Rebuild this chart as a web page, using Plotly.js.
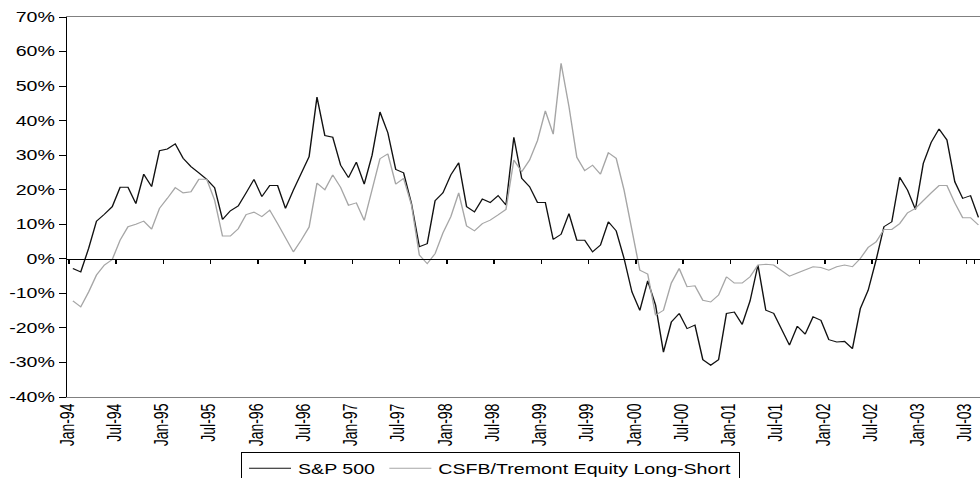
<!DOCTYPE html>
<html>
<head>
<meta charset="utf-8">
<script src="https://cdn.plot.ly/plotly-3.0.1.min.js"></script>
<style>
  html, body { margin: 0; padding: 0; overflow: hidden; background: #fff; }
  #chart { width: 700px; height: 478px; transform: scaleX(1.4); transform-origin: 0 0; }
</style>
</head>
<body>
<div id="chart"></div>
<script>
// Monthly returns (trailing 12-month, %) from Jan-94 onwards
const monthNames = ['Jan','Feb','Mar','Apr','May','Jun','Jul','Aug','Sep','Oct','Nov','Dec'];
const startYear = 1994;

const sp500 = [
  -2.8, -3.8, 3.0, 10.9, 12.9, 15.1, 20.7, 20.7, 16.0, 24.5, 20.9, 31.3,
  31.8, 33.3, 29.1, 26.7, 24.9, 23.0, 20.6, 11.4, 13.9, 15.3, 19.1, 23.0,
  18.0, 21.2, 21.2, 14.6, 19.9, 24.7, 29.6, 46.8, 35.7, 35.2, 27.1, 23.5,
  28.0, 21.6, 30.0, 42.5, 36.5, 25.9, 24.9, 16.0, 3.5, 4.4, 16.8, 19.1,
  24.3, 27.8, 15.1, 13.6, 17.3, 16.3, 18.3, 15.6, 35.2, 23.3, 20.9, 16.3,
  16.3, 5.6, 7.1, 13.1, 5.4, 5.4, 2.0, 4.0, 10.7, 8.1, 0.1, -9.6,
  -14.9, -6.4, -13.4, -27.0, -18.3, -15.8, -20.2, -19.2, -29.2, -30.8, -29.2, -15.8,
  -15.4, -19.0, -12.2, -1.8, -14.9, -15.8, -20.2, -25.0, -19.5, -21.8, -16.8, -17.8,
  -23.4, -24.1, -23.9, -26.0, -14.4, -9.1, -0.4, 9.3, 10.7, 23.6, 19.9, 14.3,
  27.6, 33.7, 37.6, 34.4, 22.3, 17.5, 18.3, 12.0
];

const csfbLongShort = [
  -12.2, -13.9, -9.6, -4.7, -1.8, -0.2, 5.4, 9.3, 10.0, 10.9, 8.6, 14.6,
  17.5, 20.6, 19.1, 19.4, 23.0, 23.0, 17.0, 6.6, 6.6, 8.7, 12.8, 13.5,
  12.2, 14.1, 10.2, 6.0, 2.0, 5.4, 9.2, 21.9, 20.0, 24.3, 20.7, 15.5,
  16.2, 11.1, 19.8, 29.0, 30.4, 21.6, 23.3, 15.6, 1.1, -1.4, 1.5, 7.5,
  12.2, 19.1, 9.5, 8.1, 10.2, 11.2, 12.7, 14.3, 28.6, 25.2, 28.6, 34.2,
  42.8, 36.1, 56.6, 44.1, 29.4, 25.5, 27.1, 24.5, 30.7, 29.1, 19.9, 8.3,
  -3.3, -4.4, -16.3, -14.9, -7.0, -2.8, -8.1, -7.8, -12.0, -12.5, -10.5, -5.2,
  -7.0, -7.0, -5.2, -1.8, -1.6, -1.8, -3.3, -5.0, -4.1, -3.1, -2.3, -2.5,
  -3.3, -2.3, -1.8, -2.3, 0.1, 3.3, 4.9, 8.5, 8.5, 10.2, 13.3, 14.6,
  17.0, 19.1, 21.2, 21.2, 16.2, 11.9, 11.9, 9.8
];

const xTickLabels = ['Jan-94','Jul-94','Jan-95','Jul-95','Jan-96','Jul-96','Jan-97','Jul-97',
  'Jan-98','Jul-98','Jan-99','Jul-99','Jan-00','Jul-00','Jan-01','Jul-01','Jan-02','Jul-02',
  'Jan-03','Jul-03'];
const yTickVals = [-40, -30, -20, -10, 0, 10, 20, 30, 40, 50, 60, 70];
const yTickLabels = ['-40%','-30%','-20%','-10%','0%','10%','20%','30%','40%','50%','60%','70%'];

// category labels for each month
const months = sp500.map((_, i) => {
  const y = startYear + Math.floor(i / 12);
  return monthNames[i % 12] + '-' + String(y).slice(2);
});

const font = 'Liberation Sans, Arial, sans-serif';
const xRange = [-0.72, 115.2];

const traces = [
  {
    x: months, y: sp500, name: 'S&P 500', type: 'scatter', mode: 'lines',
    line: { color: '#111111', width: 1 }, xaxis: 'x', yaxis: 'y', hoverinfo: 'x+y'
  },
  {
    x: months, y: csfbLongShort, name: 'CSFB/Tremont Equity Long-Short', type: 'scatter', mode: 'lines',
    line: { color: '#a6a6a6', width: 1 }, xaxis: 'x2', yaxis: 'y', hoverinfo: 'x+y'
  }
];

const layout = {
  width: 700, height: 478,
  margin: { l: 47.6, r: 0, t: 17.3, b: 81.3, autoexpand: false },
  paper_bgcolor: '#ffffff', plot_bgcolor: '#ffffff',
  font: { family: font, size: 14, color: '#000' },
  showlegend: true,
  legend: {
    orientation: 'h', x: 0.19, y: -0.144, xanchor: 'left', yanchor: 'top',
    bordercolor: '#000', borderwidth: 1, bgcolor: '#fff',
    font: { family: font, size: 14, color: '#000' },
    itemwidth: 30, traceorder: 'normal'
  },
  xaxis: {
    type: 'category', range: xRange, categoryorder: 'array', categoryarray: months,
    anchor: 'free', position: 40 / 110,
    showline: true, linecolor: '#000', linewidth: 1,
    ticks: 'outside', ticklen: 4, tickcolor: '#000', tickwidth: 1,
    tickson: 'boundaries', tickmode: 'array', tickvals: xTickLabels,
    showticklabels: false, showgrid: false, zeroline: false, automargin: false, fixedrange: true
  },
  xaxis2: {
    type: 'category', range: xRange, categoryorder: 'array', categoryarray: months,
    overlaying: 'x', anchor: 'y', side: 'bottom',
    showline: true, linecolor: '#808080', linewidth: 1, mirror: true,
    ticks: '', tickmode: 'array', tickvals: xTickLabels, ticktext: xTickLabels,
    tickangle: -90, ticklabelshift: -4, tickfont: { family: font, size: 14, color: '#000' },
    showgrid: false, zeroline: false, automargin: false, fixedrange: true
  },
  yaxis: {
    range: [-40, 70], tickmode: 'array', tickvals: yTickVals, ticktext: yTickLabels,
    showline: true, linecolor: '#000', linewidth: 1,
    ticks: 'outside', ticklen: 5, tickcolor: '#000', tickwidth: 1,
    tickfont: { family: font, size: 14, color: '#000' },
    showgrid: false, zeroline: false, automargin: false, fixedrange: true
  }
};

Plotly.newPlot('chart', traces, layout, { displayModeBar: false, staticPlot: true });
</script>
</body>
</html>
